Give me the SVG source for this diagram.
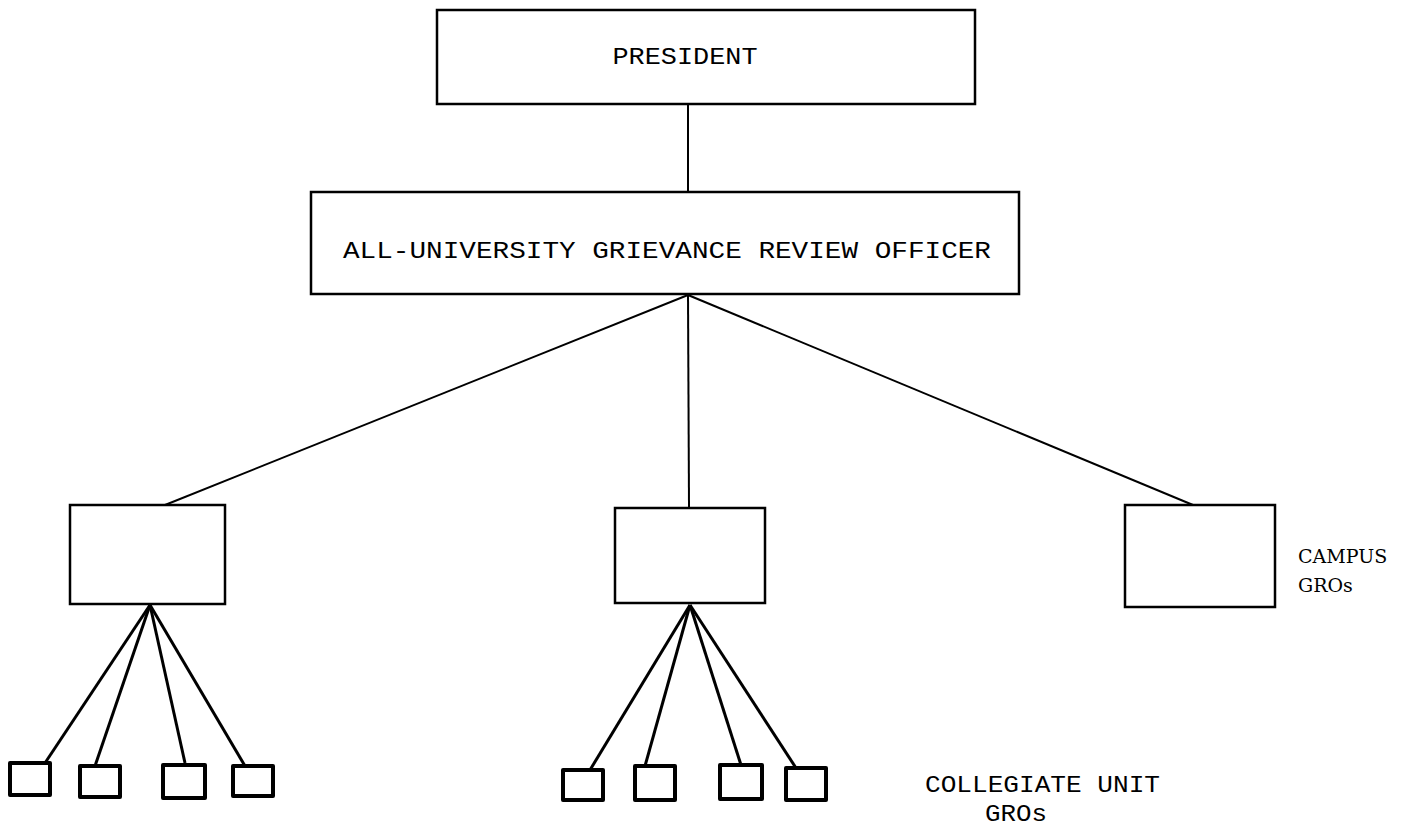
<svg xmlns="http://www.w3.org/2000/svg" width="1411" height="828" viewBox="0 0 1411 828">
<style>
.bx{fill:none;stroke:#000;stroke-width:2.5}
.sb{fill:none;stroke:#000;stroke-width:4;stroke-linejoin:round}
.ln{fill:none;stroke:#000;stroke-width:2}
.fl{fill:none;stroke:#000;stroke-width:3}
.tw{font-family:"Liberation Mono","Courier New",monospace;font-size:24px;fill:#000}
.cp{font-family:"DejaVu Serif","Liberation Serif",serif;font-size:19px;fill:#000}
</style>
<rect width="1411" height="828" fill="#fff"/>
<g id="connectors">
<line class="ln" x1="688" y1="105" x2="688" y2="192"/>
<line class="ln" x1="688" y1="295" x2="165" y2="505"/>
<line class="ln" x1="688" y1="295" x2="689" y2="507"/>
<line class="ln" x1="688" y1="295" x2="1193" y2="505"/>
<line class="fl" x1="150" y1="605" x2="45" y2="763"/>
<line class="fl" x1="150" y1="605" x2="95" y2="766"/>
<line class="fl" x1="150" y1="605" x2="185" y2="763"/>
<line class="fl" x1="150" y1="605" x2="245" y2="766"/>
<line class="fl" x1="690" y1="605" x2="590" y2="770"/>
<line class="fl" x1="690" y1="605" x2="645" y2="766"/>
<line class="fl" x1="690" y1="605" x2="741" y2="765"/>
<line class="fl" x1="690" y1="605" x2="796" y2="768"/>
</g>
<g id="president">
<rect class="bx" x="437" y="10" width="538" height="94"/>
<text class="tw" x="685" y="64" text-anchor="middle" textLength="145" lengthAdjust="spacingAndGlyphs">PRESIDENT</text>
</g>
<g id="officer">
<rect class="bx" x="311" y="192" width="708" height="102"/>
<text class="tw" x="667" y="258" text-anchor="middle" textLength="648" lengthAdjust="spacingAndGlyphs">ALL-UNIVERSITY GRIEVANCE REVIEW OFFICER</text>
</g>
<g id="campus-left"><rect class="bx" x="70" y="505" width="155" height="99"/></g>
<g id="campus-mid"><rect class="bx" x="615" y="508" width="150" height="95"/></g>
<g id="campus-right"><rect class="bx" x="1125" y="505" width="150" height="102"/></g>
<g id="campus-label">
<text class="cp" x="1298" y="563">CAMPUS</text>
<text class="cp" x="1298" y="592">GROs</text>
</g>
<g id="unit-l1"><rect class="sb" x="10" y="763" width="40" height="32"/></g>
<g id="unit-l2"><rect class="sb" x="80" y="766" width="40" height="31"/></g>
<g id="unit-l3"><rect class="sb" x="163" y="765" width="42" height="33"/></g>
<g id="unit-l4"><rect class="sb" x="233" y="766" width="40" height="30"/></g>
<g id="unit-m1"><rect class="sb" x="563" y="770" width="40" height="30"/></g>
<g id="unit-m2"><rect class="sb" x="635" y="766" width="40" height="34"/></g>
<g id="unit-m3"><rect class="sb" x="720" y="765" width="42" height="34"/></g>
<g id="unit-m4"><rect class="sb" x="786" y="768" width="40" height="32"/></g>
<g id="unit-label">
<text class="tw" x="925" y="792" textLength="235" lengthAdjust="spacingAndGlyphs">COLLEGIATE UNIT</text>
<text class="tw" x="985" y="821" textLength="62" lengthAdjust="spacingAndGlyphs">GROs</text>
</g>
</svg>
